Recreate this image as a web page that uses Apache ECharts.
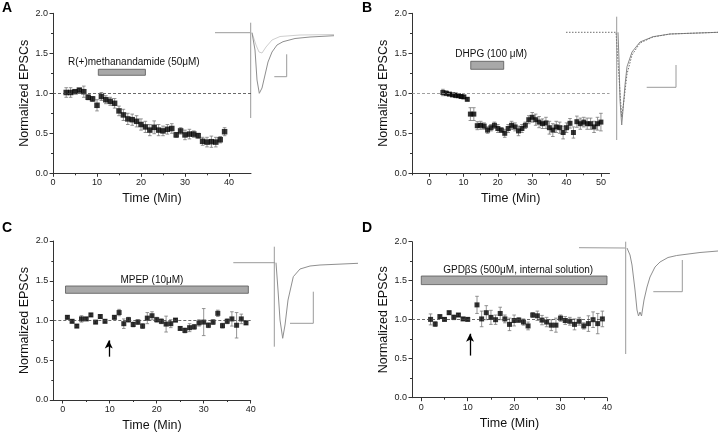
<!DOCTYPE html>
<html><head><meta charset="utf-8">
<script src="https://cdn.jsdelivr.net/npm/echarts@6/dist/echarts.min.js"></script>
<style>html,body{margin:0;padding:0;background:#fff}#c{width:720px;height:435px}</style>
</head><body><div id="c"></div>
<script>
// ---------- Panel A : R(+)methanandamide ----------
const timeA = [3,4,5,6,7,8,9,10,11,12,13,14,15,16,17,18,19,20,21,22,23,24,25,26,27,28,29,30,31,32,33,34,35,36,37,38,39];
const meanA = [1.01,1.01,1.02,1.04,1.02,0.95,0.93,0.85,0.96,0.92,0.90,0.875,0.78,0.73,0.68,0.67,0.65,0.61,0.58,0.54,0.575,0.54,0.53,0.55,0.56,0.48,0.53,0.48,0.49,0.49,0.47,0.40,0.39,0.395,0.39,0.42,0.52];
const semA  = [0.06,0.06,0.02,0.02,0.07,0.03,0.03,0.07,0.05,0.05,0.05,0.06,0.06,0.07,0.07,0.07,0.07,0.07,0.07,0.07,0.08,0.07,0.06,0.06,0.06,0.03,0.04,0.06,0.06,0.04,0.03,0.05,0.06,0.07,0.06,0.04,0.05];
const drugA = {label:'R(+)methanandamide (50\u03bcM)', x:[10.3,21], y:[1.225,1.30]};

// ---------- Panel B : DHPG ----------
const timeB = [4,5,5.9,6.8,7.7,8.5,9.3,10.1,11.1,12,13,14,15,16,17,18,19,20,21,22,23,24,25,26,27,28,29,30,31,32,33,34,35,36,37,38,39,40,41,42,43,44,45,46,47,48,49,50];
const meanB = [1.01,1.0,0.99,0.98,0.975,0.97,0.96,0.955,0.925,0.74,0.74,0.595,0.60,0.59,0.54,0.57,0.60,0.56,0.54,0.50,0.56,0.60,0.58,0.53,0.56,0.60,0.67,0.70,0.67,0.64,0.62,0.63,0.57,0.54,0.58,0.57,0.51,0.57,0.625,0.51,0.645,0.62,0.64,0.62,0.62,0.58,0.62,0.64];
const semB  = [0.04,0.03,0.02,0.02,0.03,0.02,0.02,0.02,0.02,0.08,0.08,0.05,0.05,0.04,0.04,0.04,0.04,0.05,0.03,0.05,0.05,0.05,0.05,0.06,0.05,0.04,0.05,0.06,0.07,0.07,0.06,0.07,0.08,0.08,0.07,0.07,0.08,0.06,0.06,0.07,0.07,0.07,0.06,0.07,0.07,0.07,0.08,0.11];
const drugB = {label:'DHPG (100 \u03bcM)', x:[12.1,21.7], y:[1.30,1.40]};

// ---------- Panel C : MPEP ----------
const timeC = [1,2,3,4,5,6,7,8,9,11,12,13,14,15,16,17,18,19,20,21,22,23,24,25,26,27,28,29,30,31,32,33,34,35,36,37,38,39];
const meanC = [1.04,0.99,0.93,1.02,1.02,1.07,0.98,1.05,0.99,1.04,1.10,0.96,1.01,0.95,0.98,0.93,1.03,1.06,1.01,0.99,0.955,0.96,1.005,0.90,0.875,0.91,0.92,0.97,0.98,0.94,0.98,1.09,0.935,0.99,1.02,0.94,1.02,0.97];
const semC  = [0.02,0.02,0.02,0.04,0.02,0.02,0.02,0.02,0.02,0.02,0.04,0.06,0.03,0.03,0.03,0.03,0.07,0.05,0.03,0.03,0.10,0.05,0.02,0.02,0.03,0.05,0.03,0.04,0.17,0.03,0.03,0.04,0.03,0.03,0.09,0.16,0.06,0.02];
const drugC = {label:'MPEP (10\u03bcM)', x:[0.6,39.5], y:[1.342,1.434]};
const arrowC = [[9.8,0.545],[9.8,0.75]];

// ---------- Panel D : GDPbS ----------
const timeD = [2,3,4,5,6,7,8,9,10,12,13,14,15,16,17,18,19,20,21,22,23,24,25,26,27,28,29,30,31,32,33,34,35,36,37,38,39];
const meanD = [1.004,0.944,1.04,1.004,1.09,1.03,1.06,1.01,1.004,1.19,1.01,1.09,1.03,1.0,1.08,1.01,0.94,0.99,0.995,0.97,0.92,1.06,1.05,0.995,0.97,0.93,0.93,1.02,0.99,0.98,0.94,0.98,0.92,0.95,1.0,0.95,1.01];
const semD  = [0.07,0.03,0.02,0.02,0.02,0.03,0.02,0.02,0.02,0.11,0.1,0.09,0.09,0.06,0.08,0.05,0.08,0.07,0.03,0.04,0.05,0.03,0.06,0.06,0.06,0.07,0.09,0.04,0.05,0.05,0.07,0.05,0.04,0.1,0.1,0.13,0.1];
const drugD = {label:'GPD\u03b2S (500\u03bcM, internal solution)', x:[0,40], y:[1.45,1.56]};
const arrowD = [[10.5,0.54],[10.5,0.82]];

// ---------- tick labels ----------
const yTicks = [0,0.5,1.0,1.5,2.0];
const xTicksA = [0,10,20,30,40];
const xTicksB = [0,10,20,30,40,50];
const xTicksCD = [0,10,20,30,40];

// ---------- inset EPSC traces (local units) ----------
const trA_base = [[3,-12.7],[38,-12.7]];
const trA_art  = [[38.7,-2.7],[38.7,-98]];
const trA_ctrl = [[40,-12.7],[43,-30],[45,-60],[47.3,-73.3],[50,-68],[53,-55],[56,-42],[60,-32],[65,-25],[71,-21.7],[83,-18.5],[98,-17],[122,-15.7]];
const trA_drug = [[40,-12.7],[44,-25],[47,-32],[50,-33],[54,-27],[60,-20],[68,-16.5],[88,-15],[122,-14.5]];
const trA_scale = [[62.3,-56.7],[74.7,-56.7],[74.7,-34.3]];

const trB_base = [[6,-20.3],[56,-20.3]];
const trB_dot  = [[6,-20.3],[56,-20.3],[58,-20.3],[60,-80],[61.7,-105],[64,-88],[67,-62],[72,-43],[80,-31],[93,-25],[110,-22],[158,-20.3]];
const trB_art  = [[56.7,-4.7],[56.7,-128]];
const trB_ctrl = [[58,-20.3],[59,-48],[60,-88],[61.7,-113],[63,-98],[65,-73],[67,-54.7],[72,-40],[80,-30],[93,-24.7],[110,-22],[158,-20.3]];
const trB_scale = [[86.7,-75.3],[116,-75.3],[116,-53]];

const trC_base = [[3.3,-22.7],[45,-22.7]];
const trC_art  = [[44.3,-6.7],[44.3,-106.7]];
const trC_ctrl = [[46,-22.7],[48,-50],[50,-80],[52.7,-98.3],[55,-85],[58,-60],[63.3,-36.7],[70,-29],[80,-26],[90,-25],[128,-23.3]];
const trC_scale = [[60,-83.3],[83.3,-83.3],[83.3,-51.7]];

const trD_base = [[4,-12.7],[50,-13]];
const trD_art  = [[50.7,-6.7],[50.7,-119]];
const trD_ctrl = [[52,-13],[55,-20],[57,-30],[60,-55],[62,-75],[63.5,-81],[65,-77],[66.5,-81],[69,-65],[72,-52],[75,-42],[80,-32],[85,-27],[93,-22.5],[101.7,-20.5],[125,-17.5],[143,-16]];
const trD_scale = [[78.3,-56.7],[107.3,-56.7],[107.3,-25]];

// ---------- layout ----------
const FONT = 'Liberation Sans';
const grids = [
  {left:53, top:13.3, width:198, height:160},
  {left:412, top:13.3, width:197.5, height:160},
  {left:53.3, top:241, width:197.4, height:159},
  {left:412, top:241.7, width:195, height:156}
];
const xRanges = [[0,45],[-5,52.5],[-2,40],[-2,40]];
const xMajor = [xTicksA, xTicksB, xTicksCD, xTicksCD];
const minorOf = t => { const m=[]; for(let i=0;i<t.length-1;i++) m.push((t[i]+t[i+1])/2); return m; };
const xMinor = [[5,15,25,35],[-5,5,15,25,35,45],[5,15,25,35],[5,15,25,35]];
const insetGrids = [
  {left:212, top:20, width:125, height:100, W:125, H:100},
  {left:560, top:12, width:160, height:132, W:160, H:132},
  {left:230, top:240, width:130, height:110, W:130, H:110},
  {left:575, top:235, width:145, height:125, W:145, H:125}
];

const axisColor = '#333';
const option = {
  animation:false,
  backgroundColor:'#fff',
  textStyle:{fontFamily:FONT},
  grid: grids.concat(insetGrids.map(g=>({left:g.left,top:g.top,width:g.width,height:g.height}))),
  xAxis: [],
  yAxis: [],
  series: [],
  graphic: [
    {type:'text', left:2, top:1, style:{text:'A', font:'bold 14px '+FONT, fill:'#000'}},
    {type:'text', left:362, top:1, style:{text:'B', font:'bold 14px '+FONT, fill:'#000'}},
    {type:'text', left:2, top:221, style:{text:'C', font:'bold 14px '+FONT, fill:'#000'}},
    {type:'text', left:362, top:221, style:{text:'D', font:'bold 14px '+FONT, fill:'#000'}}
  ]
};

// main x axes (0-3)
for (let i=0;i<4;i++){
  option.xAxis.push({
    type:'value', gridIndex:i, position:'bottom', min:xRanges[i][0], max:xRanges[i][1],
    name:'Time (Min)', nameLocation:'middle', nameGap:19,
    nameTextStyle:{fontSize:12.5, color:'#111', fontFamily:FONT},
    axisLine:{show:true, onZero:false, lineStyle:{color:axisColor, width:1}},
    axisTick:{show:true, length:3.5, customValues:xMajor[i], lineStyle:{color:axisColor}},
    axisLabel:{show:true, customValues:xMajor[i], margin:5, fontSize:9, color:'#222', fontFamily:FONT},
    splitLine:{show:false}
  });
}
// minor-tick x axes (4-7)
for (let i=0;i<4;i++){
  option.xAxis.push({
    type:'value', gridIndex:i, position:'bottom', min:xRanges[i][0], max:xRanges[i][1],
    axisLine:{show:false, onZero:false},
    axisTick:{show:true, length:2, customValues:xMinor[i], lineStyle:{color:axisColor}},
    axisLabel:{show:false}, splitLine:{show:false}
  });
}
// inset x axes (8-11)
insetGrids.forEach((g,k)=>option.xAxis.push({type:'value', gridIndex:4+k, min:0, max:g.W, show:false}));

// main y axes (0-3)
for (let i=0;i<4;i++){
  option.yAxis.push({
    type:'value', gridIndex:i, min:0, max:2, interval:0.5,
    name:'Normalized EPSCs', nameLocation:'middle', nameGap:22,
    nameTextStyle:{fontSize:12.5, color:'#111', fontFamily:FONT},
    axisLine:{show:true, onZero:false, lineStyle:{color:axisColor, width:1}},
    axisTick:{show:true, length:3.5, lineStyle:{color:axisColor}},
    minorTick:{show:true, splitNumber:2, length:2, lineStyle:{color:axisColor}},
    axisLabel:{margin:5, fontSize:9, color:'#222', fontFamily:FONT, formatter:v=>v.toFixed(1)},
    splitLine:{show:false}, minorSplitLine:{show:false}
  });
}
// inset y axes (4-7)
insetGrids.forEach((g,k)=>option.yAxis.push({type:'value', gridIndex:4+k, min:-g.H, max:0, show:false}));

const panels = [
  {t:timeA, m:meanA, s:semA, drug:drugA, off:[12,0], dash:'#444', sym:5.5},
  {t:timeB, m:meanB, s:semB, drug:drugB, off:[4,0], dash:'#888', sym:5},
  {t:timeC, m:meanC, s:semC, drug:drugC, off:[-5,2], dash:'#444', sym:5, arrow:arrowC},
  {t:timeD, m:meanD, s:semD, drug:drugD, off:[4,2], dash:'#444', sym:5, arrow:arrowD}
];

panels.forEach((p,i)=>{
  // error bars
  option.series.push({
    type:'custom', xAxisIndex:i, yAxisIndex:i, z:2, silent:true,
    data: p.t.map((t,k)=>[t, p.m[k]-p.s[k], p.m[k]+p.s[k]]),
    renderItem:(params, api)=>{
      const x = api.value(0);
      const lo = api.coord([x, api.value(1)]);
      const hi = api.coord([x, api.value(2)]);
      const w = 1.8;
      const st = {stroke:'#7a7a7a', lineWidth:0.8};
      return {type:'group', children:[
        {type:'line', shape:{x1:lo[0],y1:lo[1],x2:hi[0],y2:hi[1]}, style:st},
        {type:'line', shape:{x1:lo[0]-w,y1:lo[1],x2:lo[0]+w,y2:lo[1]}, style:st},
        {type:'line', shape:{x1:hi[0]-w,y1:hi[1],x2:hi[0]+w,y2:hi[1]}, style:st}
      ]};
    },
    markArea:{
      silent:true,
      itemStyle:{color:'#a8a8a8', borderColor:'#555', borderWidth:0.8},
      label:{show:true, position:'top', distance:2, offset:p.off, fontSize:10, color:'#111', fontFamily:FONT},
      data:[[{name:p.drug.label, coord:[p.drug.x[0], p.drug.y[1]]},{coord:[p.drug.x[1], p.drug.y[0]]}]]
    }
  });
  // mean points
  option.series.push({
    type:'scatter', xAxisIndex:i, yAxisIndex:i, z:3, silent:true,
    symbol:'rect', symbolSize:p.sym, itemStyle:{color:'#000'},
    data: p.t.map((t,k)=>[t, p.m[k]]),
    markLine:{
      silent:true, symbol:['none','none'], label:{show:false},
      lineStyle:{color:p.dash, type:[3,2], width:0.8},
      data:[{yAxis:1}]
    }
  });
  if (p.arrow){
    option.series.push({
      type:'line', xAxisIndex:i, yAxisIndex:i, z:4, silent:true, data:[], showSymbol:false,
      markLine:{
        silent:true, symbol:['none','arrow'], symbolSize:[6,8], label:{show:false},
        lineStyle:{color:'#000', type:'solid', width:1.3},
        data:[[{coord:p.arrow[0]},{coord:p.arrow[1]}]]
      }
    });
  }
});

// inset traces
function trace(k, data, color, width, type){
  option.series.push({type:'line', xAxisIndex:8+k, yAxisIndex:4+k, data:data, showSymbol:false, silent:true,
    lineStyle:{color:color, width:width||1, type:type||'solid'}, smooth:false, z:1});
}
trace(0, trA_base, '#9a9a9a', 1);
trace(0, trA_art, '#9a9a9a', 1);
trace(0, trA_drug, '#cfcfcf', 1);
trace(0, trA_ctrl, '#8f8f8f', 1);
trace(0, trA_scale, '#9a9a9a', 1);

trace(1, trB_art, '#9a9a9a', 1);
trace(1, trB_ctrl, '#8a8a8a', 1);
trace(1, trB_dot, '#6f6f6f', 1, [1.5,1.5]);
trace(1, trB_scale, '#9a9a9a', 1);

trace(2, trC_base, '#9a9a9a', 1);
trace(2, trC_art, '#9a9a9a', 1);
trace(2, trC_ctrl, '#8f8f8f', 1);
trace(2, trC_scale, '#9a9a9a', 1);

trace(3, trD_base, '#9a9a9a', 1);
trace(3, trD_art, '#9a9a9a', 1);
trace(3, trD_ctrl, '#8f8f8f', 1);
trace(3, trD_scale, '#9a9a9a', 1);

const chart = echarts.init(document.getElementById('c'), null, {renderer:'canvas'});
chart.setOption(option);
</script>
</body></html>
